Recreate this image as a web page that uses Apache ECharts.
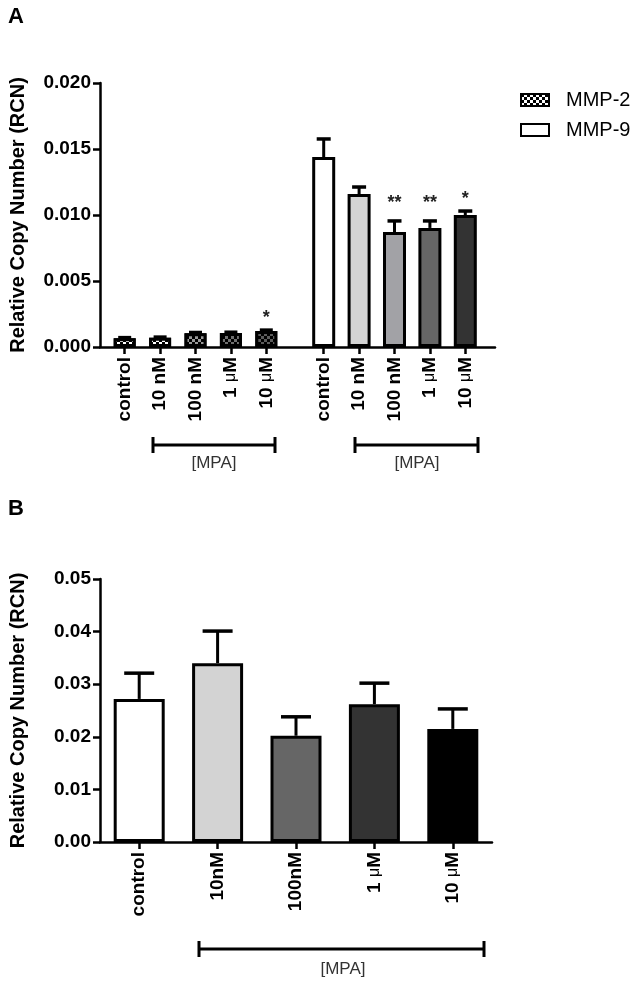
<!DOCTYPE html>
<html>
<head>
<meta charset="utf-8">
<script src="https://cdn.jsdelivr.net/npm/echarts@6/dist/echarts.min.js"></script>
<style>
html, body { margin: 0; padding: 0; background: #fff; }
#chart { width: 638px; height: 982px; }
</style>
</head>
<body>
<div id="chart"></div>
<script>
// panel A
var dosesA = ['control', '10 nM', '100 nM', '1 μM', '10 μM'];
var mmp2Mean = [0.00066, 0.00070, 0.00104, 0.00106, 0.00121];
var mmp2Upper = [0.00071, 0.00075, 0.00110, 0.00112, 0.00128];
var mmp2Stars = ['', '', '', '', '*'];
var mmp2Checks = ['#ffffff', '#ffffff', '#9a9a9a', '#707070', '#5c5c5c'];

var mmp9Mean = [0.01439, 0.01159, 0.00871, 0.00902, 0.0100];
var mmp9Upper = [0.01576, 0.01212, 0.00955, 0.00955, 0.0103];
var mmp9Stars = ['', '', '**', '**', '*'];
var mmp9Colors = ['#ffffff', '#d4d4d4', '#a2a2a6', '#666666', '#333333'];
var yTicksA = [0, 0.005, 0.010, 0.015, 0.020];

// panel B
var dosesB = ['control', '10nM', '100nM', '1 μM', '10 μM'];
var bMean = [0.0272, 0.0340, 0.0202, 0.0262, 0.0215];
var bUpper = [0.0321, 0.0401, 0.0238, 0.0302, 0.0253];
var bColors = ['#ffffff', '#d3d3d3', '#666666', '#333333', '#000000'];
var yTicksB = [0, 0.01, 0.02, 0.03, 0.04, 0.05];

var FONT = '"Liberation Sans", Arial, sans-serif';

var myChart = echarts.init(document.getElementById('chart'));

function checks(c) {
  return { symbol: 'rect', symbolSize: 1, color: c, dashArrayX: [[3, 3], [0, 3, 3, 0]], dashArrayY: [3, 0] };
}

// error bar (upper only) + significance stars
function errorBars(capW, stars) {
  return function (params, api) {
    var x = api.value(0);
    var p0 = api.coord([x, api.value(1)]);
    var p1 = api.coord([x, api.value(2)]);
    var kids = [
      { type: 'line', shape: { x1: p0[0], y1: p0[1], x2: p1[0], y2: p1[1] }, style: { stroke: '#000', lineWidth: 3 } },
      { type: 'line', shape: { x1: p1[0] - capW / 2, y1: p1[1], x2: p1[0] + capW / 2, y2: p1[1] }, style: { stroke: '#000', lineWidth: 3.5 } }
    ];
    var s = stars ? stars[params.dataIndex] : '';
    if (s) {
      kids.push({ type: 'text', style: { text: s, x: p1[0], y: p1[1] - (s.length > 1 ? 9 : 3), align: 'center', verticalAlign: 'bottom',
        fontSize: 18, fontWeight: 'bold', fontFamily: FONT, fill: '#222' } });
    }
    return { type: 'group', children: kids };
  };
}

function catAxis(grid, labels) {
  return {
    type: 'category', gridIndex: grid, data: labels,
    axisLine: { show: false },
    axisTick: { show: true, alignWithLabel: true, length: 7, lineStyle: { color: '#000', width: 2.5 } },
    axisLabel: {
      rotate: 90, margin: 10, color: '#000', fontSize: 19, fontWeight: 'bold', fontFamily: FONT,
      formatter: function (v) { return v.replace('μ', '{mu|μ}'); },
      rich: { mu: { fontSize: 16, fontWeight: 'normal', fontFamily: FONT, color: '#000' } }
    }
  };
}

function valAxis(grid, ticks, digits, show) {
  return {
    type: 'value', gridIndex: grid, show: show,
    min: ticks[0], max: ticks[ticks.length - 1], interval: ticks[1] - ticks[0],
    name: show ? 'Relative Copy Number (RCN)' : '',
    nameLocation: 'middle', nameGap: 72,
    nameTextStyle: { fontSize: 20, fontWeight: 'bold', fontFamily: FONT, color: '#000' },
    axisLine: { show: true, lineStyle: { color: '#000', width: 2.5 } },
    axisTick: { show: true, length: 7, lineStyle: { color: '#000', width: 2.5 } },
    axisLabel: { margin: 9, color: '#000', fontSize: 19, fontWeight: 'bold', fontFamily: FONT,
      formatter: function (v) { return v.toFixed(digits); } },
    splitLine: { show: false }
  };
}

var option = {
  animation: false,
  backgroundColor: '#fff',
  legend: {
    data: ['MMP-2', 'MMP-9'], orient: 'vertical', left: 520, top: 90, padding: 0,
    itemWidth: 28, itemHeight: 12, itemGap: 10, icon: 'rect',
    textStyle: { fontSize: 20, fontFamily: FONT, color: '#000', padding: [0, 0, 0, 12] }
  },
  grid: [
    { left: 96, top: 83, width: 399, height: 264 },
    { left: 107, top: 83, width: 177, height: 264 },
    { left: 306, top: 83, width: 177, height: 264 },
    { left: 96, top: 579, width: 396, height: 263 }
  ],
  xAxis: [
    { type: 'value', gridIndex: 0, min: 0, max: 1,
      axisLine: { show: true, lineStyle: { color: '#000', width: 2.5 } },
      axisTick: { show: false }, axisLabel: { show: false }, splitLine: { show: false } },
    catAxis(1, dosesA),
    catAxis(2, dosesA),
    Object.assign(catAxis(3, dosesB), { axisLine: { show: true, lineStyle: { color: '#000', width: 2.5 } } })
  ],
  yAxis: [
    valAxis(0, yTicksA, 3, true),
    valAxis(1, yTicksA, 3, false),
    valAxis(2, yTicksA, 3, false),
    valAxis(3, yTicksB, 2, true)
  ],
  series: [
    {
      name: 'MMP-2', type: 'bar', xAxisIndex: 1, yAxisIndex: 1, barWidth: 22,
      itemStyle: { color: '#000', borderColor: '#000', borderWidth: 3, decal: checks('#ffffff') },
      data: mmp2Mean.map(function (v, i) { return { value: v, itemStyle: { decal: checks(mmp2Checks[i]) } }; })
    },
    {
      type: 'custom', xAxisIndex: 1, yAxisIndex: 1, z: 3,
      renderItem: errorBars(13, mmp2Stars), encode: { x: 0, y: [1, 2] },
      data: mmp2Mean.map(function (v, i) { return [i, v, mmp2Upper[i]]; })
    },
    {
      name: 'MMP-9', type: 'bar', xAxisIndex: 2, yAxisIndex: 2, barWidth: 23,
      itemStyle: { color: '#fff', borderColor: '#000', borderWidth: 3 },
      data: mmp9Mean.map(function (v, i) { return { value: v, itemStyle: { color: mmp9Colors[i] } }; })
    },
    {
      type: 'custom', xAxisIndex: 2, yAxisIndex: 2, z: 3,
      renderItem: errorBars(14, mmp9Stars), encode: { x: 0, y: [1, 2] },
      data: mmp9Mean.map(function (v, i) { return [i, v, mmp9Upper[i]]; })
    },
    {
      type: 'bar', xAxisIndex: 3, yAxisIndex: 3, barWidth: 51,
      itemStyle: { borderColor: '#000', borderWidth: 3 },
      data: bMean.map(function (v, i) { return { value: v, itemStyle: { color: bColors[i] } }; })
    },
    {
      type: 'custom', xAxisIndex: 3, yAxisIndex: 3, z: 3,
      renderItem: errorBars(30, null), encode: { x: 0, y: [1, 2] },
      data: bMean.map(function (v, i) { return [i, v, bUpper[i]]; })
    }
  ],
  graphic: [
    { type: 'text', left: 8, top: 6, style: { text: 'A', fontSize: 22, fontWeight: 'bold', fontFamily: FONT, fill: '#000' } },
    { type: 'text', left: 8, top: 498, style: { text: 'B', fontSize: 22, fontWeight: 'bold', fontFamily: FONT, fill: '#000' } },
    // [MPA] brackets
    { type: 'polyline', shape: { points: [[153, 437], [153, 453], [153, 445], [275, 445], [275, 437], [275, 453]] }, style: { stroke: '#000', lineWidth: 3, fill: null } },
    { type: 'text', x: 214, y: 463, style: { text: '[MPA]', align: 'center', verticalAlign: 'middle', fontSize: 17, fontFamily: FONT, fill: '#333' } },
    { type: 'polyline', shape: { points: [[355, 437], [355, 453], [355, 445], [478, 445], [478, 437], [478, 453]] }, style: { stroke: '#000', lineWidth: 3, fill: null } },
    { type: 'text', x: 417, y: 463, style: { text: '[MPA]', align: 'center', verticalAlign: 'middle', fontSize: 17, fontFamily: FONT, fill: '#333' } },
    { type: 'polyline', shape: { points: [[199, 941], [199, 957], [199, 949], [484, 949], [484, 941], [484, 957]] }, style: { stroke: '#000', lineWidth: 3, fill: null } },
    { type: 'text', x: 343, y: 969, style: { text: '[MPA]', align: 'center', verticalAlign: 'middle', fontSize: 17, fontFamily: FONT, fill: '#333' } }
  ]
};

myChart.setOption(option);
</script>
</body>
</html>
